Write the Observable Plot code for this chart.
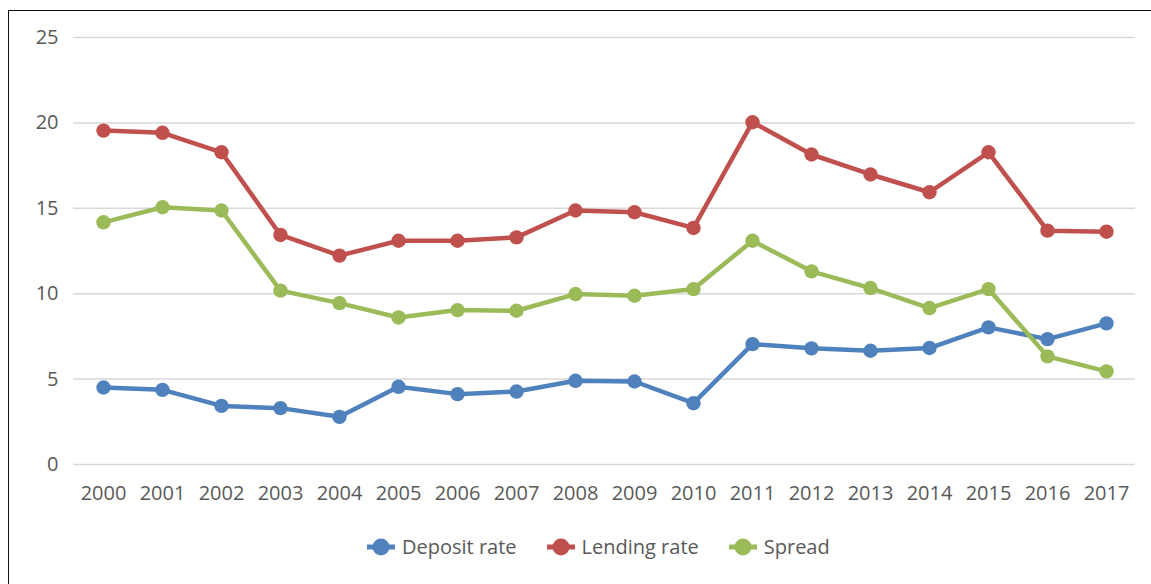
<!DOCTYPE html>
<html>
<head>
<meta charset="utf-8">
<script src="https://cdn.jsdelivr.net/npm/d3@7"></script>
<script src="https://cdn.jsdelivr.net/npm/@observablehq/plot@0.6"></script>
<style>
  html, body { margin: 0; padding: 0; background: #fff; overflow: hidden; width: 1151px; height: 584px; }
  #wrap { position: relative; width: 1151px; height: 584px; font-family: "Open Sans", sans-serif; }
  #chart { position: absolute; left: 0; top: 0; }
  #frame { position: absolute; left: 8px; top: 10px; width: 1200px; height: 600px;
           border-left: 1.5px solid #111; border-top: 1.5px solid #111; pointer-events: none; }
  #legend { position: absolute; left: 366px; top: 533px; display: flex; align-items: center;
            gap: 29px; font-size: 20px; color: #595959; }
  .item { display: flex; align-items: center; gap: 6px; }
</style>
</head>
<body>
<div id="wrap">
  <div id="chart"></div>
  <div id="legend"></div>
  <div id="frame"></div>
</div>
<script>
const years = ["2000","2001","2002","2003","2004","2005","2006","2007","2008","2009","2010","2011","2012","2013","2014","2015","2016","2017"];
const depositRate = [4.51,4.37,3.43,3.30,2.79,4.55,4.12,4.27,4.90,4.86,3.59,7.05,6.80,6.66,6.82,8.03,7.34,8.26];
const lendingRate = [19.55,19.42,18.28,13.44,12.23,13.10,13.10,13.30,14.87,14.77,13.85,20.04,18.15,16.98,15.94,18.28,13.69,13.63];
const spread = [14.18,15.06,14.87,10.18,9.45,8.61,9.04,9.00,9.98,9.88,10.27,13.10,11.31,10.33,9.16,10.27,6.33,5.45];
const seriesNames = ["Deposit rate","Lending rate","Spread"];
const seriesColors = ["#4F81BD","#C0504D","#9BBB59"];
const yTicks = [0,5,10,15,20,25];

const seriesValues = [depositRate, lendingRate, spread];
const data = seriesNames.flatMap((name, i) =>
  years.map((yr, j) => ({series: name, year: yr, value: seriesValues[i][j]})));

const chart = Plot.plot({
  width: 1151,
  height: 520,
  marginLeft: 73,
  marginRight: 16,
  marginTop: 37,
  marginBottom: 56,
  style: {fontFamily: "Open Sans, sans-serif", fontSize: "20px", color: "#595959", background: "transparent"},
  x: {type: "point", domain: years, padding: 0.5, label: null},
  y: {domain: [0,25], ticks: yTicks, label: null},
  color: {domain: seriesNames, range: seriesColors},
  marks: [
    Plot.gridY(yTicks, {stroke: "#d9d9d9", strokeOpacity: 1, strokeWidth: 1.5}),
    Plot.axisY({ticks: yTicks, tickSize: 0, tickPadding: 15, label: null, fill: "#595959"}),
    Plot.axisX({tickSize: 0, tickPadding: 21, label: null, fill: "#595959"}),
    Plot.line(data, {x: "year", y: "value", z: "series", stroke: "series", strokeWidth: 4.5, strokeLinejoin: "round", strokeLinecap: "round"}),
    Plot.dot(data, {x: "year", y: "value", fill: "series", r: 7.2, stroke: null})
  ]
});
document.getElementById("chart").appendChild(chart);

const legend = document.getElementById("legend");
seriesNames.forEach((name, i) => {
  const item = document.createElement("div");
  item.className = "item";
  item.innerHTML = `<svg width="30" height="20"><line x1="1" y1="10" x2="29" y2="10" stroke="${seriesColors[i]}" stroke-width="5"/><circle cx="15" cy="10" r="8.5" fill="${seriesColors[i]}"/></svg><span>${name}</span>`;
  legend.appendChild(item);
});
</script>
</body>
</html>
